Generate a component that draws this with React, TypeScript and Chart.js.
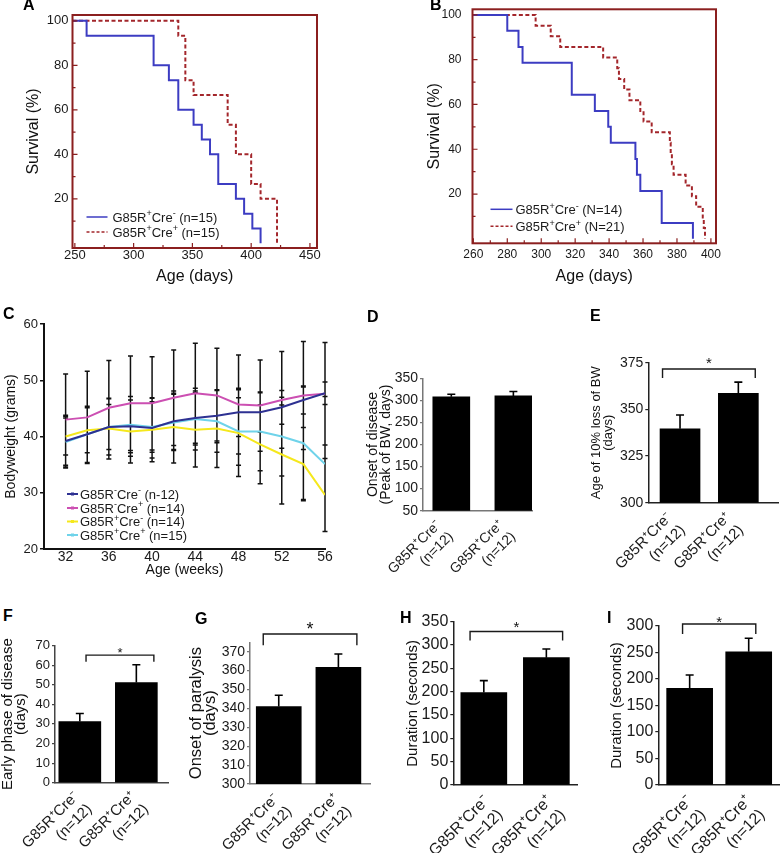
import React, { useEffect, useRef } from 'react';
import { Chart, registerables } from 'chart.js';

Chart.register(...registerables);

const FONT = "'Liberation Sans', Arial, Helvetica, sans-serif";
Chart.defaults.font.family = FONT;

/* ---------------- Panel A : survival ---------------- */
const A_X_TICKS = [250, 300, 350, 400, 450];
const A_Y_TICKS = [20, 40, 60, 80, 100];
const A_CREMINUS_DAYS = [248, 260, 317, 330, 338, 351, 358, 365, 372, 387, 394, 401, 408];
const A_CREMINUS_SURV = [100, 93.3, 80, 73.3, 60, 53.3, 46.7, 40, 26.7, 20, 13.3, 6.7, 0];
const A_CREPLUS_DAYS = [248, 338, 344, 351, 380, 387, 400, 408, 422];
const A_CREPLUS_SURV = [100, 93.3, 73.3, 66.7, 53.3, 40, 26.7, 20, 0];
const A_LEGEND = ['G85R^+Cre^- (n=15)', 'G85R^+Cre^+ (n=15)'];

/* ---------------- Panel B : survival ---------------- */
const B_X_TICKS = [260, 280, 300, 320, 340, 360, 380, 400];
const B_Y_TICKS = [20, 40, 60, 80, 100];
const B_CREMINUS_DAYS = [260, 280, 286.6, 289, 318, 331.6, 339.5, 341, 355.5, 356.4, 358.4, 371, 389.4];
const B_CREMINUS_SURV = [100, 92.9, 85.7, 78.6, 64.3, 57.1, 50, 42.9, 35.7, 28.6, 21.4, 7.1, 0];
const B_CREPLUS_DAYS = [260, 296.7, 305.6, 311.2, 336.5, 344.8, 345.8, 348.9, 352, 358.4, 360.3, 365.1, 375.8, 376.3, 377, 378, 385.1, 388.8, 391.3, 395.2, 395.8, 396.5];
const B_CREPLUS_SURV = [100, 95.2, 90.5, 85.7, 81, 76.2, 71.4, 66.7, 61.9, 57.1, 52.4, 47.6, 42.9, 38.1, 33.3, 28.6, 23.8, 19, 14.3, 9.5, 4.8, 0];
const B_LEGEND = ['G85R^+Cre^- (N=14)', 'G85R^+Cre^+ (N=21)'];

/* ---------------- Panel C : bodyweight ---------------- */
const C_WEEKS = [32, 34, 36, 38, 40, 42, 44, 46, 48, 50, 52, 54, 56];
const C_X_TICKS = [32, 36, 40, 44, 48, 52, 56];
const C_Y_TICKS = [20, 30, 40, 50, 60];
const C_NEG_NEG = [39.2, 40.4, 41.7, 41.8, 41.5, 42.7, 43.3, 43.7, 44.3, 44.3, 45.2, 46.5, 47.7];
const C_NEG_NEG_SD = [4.6, 5.0, 5.0, 5.3, 5.3, 5.0, 4.8, 4.5, 4.3, 3.5, 3.0, 2.5, 2.0];
const C_NEG_POS = [43.0, 43.4, 45.1, 45.9, 45.9, 46.9, 47.7, 47.3, 45.7, 45.5, 46.5, 47.3, 47.6];
const C_NEG_POS_SD = [8.1, 8.2, 8.4, 8.4, 8.3, 8.5, 8.9, 8.4, 8.8, 8.1, 8.6, 9.6, 9.1];
const C_POS_NEG = [40.0, 41.1, 41.4, 40.9, 41.2, 41.7, 41.2, 41.4, 40.6, 38.6, 36.8, 35.1, 29.6];
const C_POS_NEG_SD = [3.3, 4.0, 5.4, 5.6, 5.7, 6.4, 6.6, 6.9, 7.7, 7.0, 8.8, 6.5, 6.5];
const C_POS_POS = [39.0, 40.4, 41.7, 42.1, 41.7, 42.5, 43.1, 42.7, 40.9, 40.9, 40.0, 38.8, 35.1];
const C_POS_POS_SD = [4.6, 5.0, 4.0, 5.0, 4.5, 5.0, 5.5, 5.5, 6.0, 7.0, 7.0, 10.0, 12.0];
const C_LEGEND = ['G85R^-Cre^- (n-12)', 'G85R^-Cre^+ (n=14)', 'G85R^+Cre^- (n=14)', 'G85R^+Cre^+ (n=15)'];

/* ---------------- Bar panels D-I ---------------- */
const BAR_LABELS = [['G85R⁺Cre⁻', '(n=12)'], ['G85R⁺Cre⁺', '(n=12)']];
const D_ONSET = [308, 310];
const D_ERR = [6, 10];
const D_Y_TICKS = [50, 100, 150, 200, 250, 300, 350];
const E_LOSS10 = [339.6, 358.6];
const E_ERR = [7.4, 6.0];
const E_Y_TICKS = [300, 325, 350, 375];
const F_EARLY = [31.2, 51.1];
const F_ERR = [4.1, 9.1];
const F_Y_TICKS = [0, 10, 20, 30, 40, 50, 60, 70];
const G_PARALYSIS = [341, 361.7];
const G_ERR = [6, 7.1];
const G_Y_TICKS = [300, 310, 320, 330, 340, 350, 360, 370];
const H_DURATION = [198, 273];
const H_ERR = [25.8, 18.6];
const H_Y_TICKS = [0, 50, 100, 150, 200, 250, 300, 350];
const I_DURATION = [182.5, 251.5];
const I_ERR = [25, 25.3];
const I_Y_TICKS = [0, 50, 100, 150, 200, 250, 300];

/* ---------------- colours ---------------- */
const SURV_BLUE = '#3c3cc2';
const SURV_RED = '#a3262b';
const FRAME = '#8b1f1f';
const C_NAVY = '#2e3192';
const C_MAGENTA = '#cc4fb2';
const C_YELLOW = '#f5e81c';
const C_CYAN = '#6fd3ea';

type Box = { x: number; y: number; w: number; h: number };
type Area = { l: number; t: number; r: number; b: number };

const zip = (xs: number[], ys: number[]) => xs.map((x, i) => ({ x, y: ys[i] }));
const layoutFor = (box: Box, area: Area) => ({
  padding: { left: 0, top: area.t - box.y, right: box.x + box.w - area.r, bottom: 0 },
});
const yFit = (box: Box, area: Area) => (s: any) => {
  s.width = area.l - box.x;
  s.paddingTop = 0;
  s.paddingBottom = 0;
};
const xFit = (box: Box, area: Area) => (s: any) => {
  s.height = box.y + box.h - area.b;
  s.paddingLeft = 0;
  s.paddingRight = 0;
};
const setTicks = (vals: number[]) => (s: any) => {
  s.ticks = vals.map((v) => ({ value: v }));
};

function drawRich(ctx: CanvasRenderingContext2D, text: string, x: number, y: number, size: number, color: string) {
  const parts = text.split(/(\^.)/).filter(Boolean);
  let cx = x;
  ctx.save();
  ctx.fillStyle = color;
  ctx.textAlign = 'left';
  ctx.textBaseline = 'alphabetic';
  for (const p of parts) {
    if (p.length === 2 && p[0] === '^') {
      ctx.font = `${Math.round(size * 0.72)}px ${FONT}`;
      ctx.fillText(p[1], cx, y - size * 0.42);
      cx += ctx.measureText(p[1]).width;
    } else {
      ctx.font = `${size}px ${FONT}`;
      ctx.fillText(p, cx, y);
      cx += ctx.measureText(p).width;
    }
  }
  ctx.restore();
}

/* ---------------- survival panels ---------------- */
type SurvSpec = {
  box: Box;
  area: Area;
  xMin: number;
  xMax: number;
  yMin: number;
  yMax: number;
  xTicks: number[];
  yTicks: number[];
  xMinorStep: number;
  xMajorStep: number;
  tickSize: number;
  yLabelPad: number;
  xLabelPad: number;
  series: { days: number[]; surv: number[]; color: string; dash: number[] }[];
  legend: string[];
  leg: { x1: number; x2: number; xt: number; dy: number[] };
};

function survivalConfig(s: SurvSpec) {
  const frame = {
    id: 'frame',
    afterDraw(chart: any) {
      const { ctx, chartArea: a, scales } = chart;
      ctx.save();
      ctx.strokeStyle = FRAME;
      ctx.lineWidth = 2;
      ctx.strokeRect(a.left, a.top, a.right - a.left, a.bottom - a.top);
      ctx.lineWidth = 1.2;
      ctx.beginPath();
      for (let v = s.xTicks[0]; v <= s.xMax; v += s.xMinorStep) {
        const px = scales.x.getPixelForValue(v);
        const L = Math.abs((v - s.xTicks[0]) % s.xMajorStep) < 1e-6 ? 5 : 3;
        ctx.moveTo(px, a.bottom);
        ctx.lineTo(px, a.bottom - L);
      }
      for (let v = 10; v <= 100; v += 10) {
        const py = scales.y.getPixelForValue(v);
        const L = v % 20 === 0 ? 5 : 3;
        ctx.moveTo(a.left, py);
        ctx.lineTo(a.left + L, py);
      }
      ctx.stroke();
      ctx.restore();
    },
  };
  const legend = {
    id: 'survLegend',
    afterDraw(chart: any) {
      const { ctx, chartArea: a } = chart;
      s.legend.forEach((t, i) => {
        const y = a.bottom - s.leg.dy[i];
        const ser = s.series[i];
        ctx.save();
        ctx.strokeStyle = ser.color;
        ctx.lineWidth = 1.5;
        ctx.setLineDash(ser.dash.length ? [3, 2] : []);
        ctx.beginPath();
        ctx.moveTo(a.left + s.leg.x1, y);
        ctx.lineTo(a.left + s.leg.x2, y);
        ctx.stroke();
        ctx.restore();
        drawRich(ctx, t, a.left + s.leg.xt, y + 4.8, 13, '#1a1a1a');
      });
    },
  };
  return {
    type: 'line',
    data: {
      datasets: s.series.map((ser) => ({
        data: zip(ser.days, ser.surv),
        borderColor: ser.color,
        borderWidth: 2,
        borderDash: ser.dash,
        stepped: 'before',
        pointRadius: 0,
        fill: false,
      })),
    },
    options: {
      animation: false,
      responsive: false,
      devicePixelRatio: 1,
      events: [],
      layout: layoutFor(s.box, s.area),
      plugins: { legend: { display: false }, tooltip: { enabled: false } },
      scales: {
        x: {
          type: 'linear',
          min: s.xMin,
          max: s.xMax,
          afterBuildTicks: setTicks(s.xTicks),
          afterFit: xFit(s.box, s.area),
          grid: { display: false, drawTicks: false },
          border: { display: false },
          ticks: { font: { size: s.tickSize }, color: '#1a1a1a', padding: s.xLabelPad, maxRotation: 0 },
          title: { display: true, text: 'Age (days)', font: { size: 16, lineHeight: 1.2 }, color: '#111', padding: 0 },
        },
        y: {
          type: 'linear',
          min: s.yMin,
          max: s.yMax,
          afterBuildTicks: setTicks(s.yTicks),
          afterFit: yFit(s.box, s.area),
          grid: { display: false, drawTicks: false },
          border: { display: false },
          ticks: { font: { size: s.tickSize }, color: '#1a1a1a', padding: s.yLabelPad },
          title: { display: true, text: 'Survival (%)', font: { size: 16, lineHeight: 1.2 }, color: '#111', padding: 0 },
        },
      },
    },
    plugins: [frame, legend],
  };
}

const A_SPEC: SurvSpec = {
  box: { x: 24, y: 2, w: 306, h: 284 },
  area: { l: 72.5, t: 15, r: 317, b: 248 },
  xMin: 248,
  xMax: 456,
  yMin: -2.1,
  yMax: 102.6,
  xTicks: A_X_TICKS,
  yTicks: A_Y_TICKS,
  xMinorStep: 25,
  xMajorStep: 50,
  tickSize: 13,
  yLabelPad: 4,
  xLabelPad: 0,
  series: [
    { days: A_CREMINUS_DAYS, surv: A_CREMINUS_SURV, color: SURV_BLUE, dash: [] },
    { days: A_CREPLUS_DAYS, surv: A_CREPLUS_SURV, color: SURV_RED, dash: [4, 2.5] },
  ],
  legend: A_LEGEND,
  leg: { x1: 14, x2: 35, xt: 40, dy: [31, 16] },
};

const B_SPEC: SurvSpec = {
  box: { x: 425, y: 0, w: 315, h: 286 },
  area: { l: 472.5, t: 9.3, r: 716, b: 243.3 },
  xMin: 259.5,
  xMax: 403,
  yMin: -2,
  yMax: 102.5,
  xTicks: B_X_TICKS,
  yTicks: B_Y_TICKS,
  xMinorStep: 10,
  xMajorStep: 20,
  tickSize: 12,
  yLabelPad: 11,
  xLabelPad: 4,
  series: [
    { days: B_CREMINUS_DAYS, surv: B_CREMINUS_SURV, color: SURV_BLUE, dash: [] },
    { days: B_CREPLUS_DAYS, surv: B_CREPLUS_SURV, color: SURV_RED, dash: [4, 2.5] },
  ],
  legend: B_LEGEND,
  leg: { x1: 18, x2: 40, xt: 43, dy: [34, 17] },
};

/* ---------------- panel C ---------------- */
const C_BOX: Box = { x: 3, y: 312, w: 340, h: 267 };
const C_AREA: Area = { l: 44, t: 324, r: 325, b: 549 };
const C_SERIES = [
  { values: C_NEG_NEG, sd: C_NEG_NEG_SD, color: C_NAVY },
  { values: C_NEG_POS, sd: C_NEG_POS_SD, color: C_MAGENTA },
  { values: C_POS_NEG, sd: C_POS_NEG_SD, color: C_YELLOW },
  { values: C_POS_POS, sd: C_POS_POS_SD, color: C_CYAN },
];

function weightConfig() {
  const errs = {
    id: 'cErr',
    beforeDatasetsDraw(chart: any) {
      const { ctx, scales } = chart;
      ctx.save();
      ctx.strokeStyle = '#111';
      ctx.lineWidth = 1.5;
      ctx.beginPath();
      C_SERIES.forEach((ser) => {
        C_WEEKS.forEach((w, j) => {
          const x = scales.x.getPixelForValue(w);
          const yt = scales.y.getPixelForValue(ser.values[j] + ser.sd[j]);
          const yb = scales.y.getPixelForValue(ser.values[j] - ser.sd[j]);
          ctx.moveTo(x, yt);
          ctx.lineTo(x, yb);
          ctx.moveTo(x - 2.5, yt);
          ctx.lineTo(x + 2.5, yt);
          ctx.moveTo(x - 2.5, yb);
          ctx.lineTo(x + 2.5, yb);
        });
      });
      ctx.stroke();
      ctx.restore();
    },
  };
  const legend = {
    id: 'cLegend',
    afterDraw(chart: any) {
      const { ctx, chartArea: a } = chart;
      const dys = [55, 41, 27.5, 14];
      C_LEGEND.forEach((t, i) => {
        const y = a.bottom - dys[i];
        ctx.save();
        ctx.strokeStyle = C_SERIES[i].color;
        ctx.fillStyle = C_SERIES[i].color;
        ctx.lineWidth = 2;
        ctx.beginPath();
        ctx.moveTo(a.left + 23, y);
        ctx.lineTo(a.left + 34, y);
        ctx.stroke();
        ctx.fillRect(a.left + 27, y - 1.5, 3, 3);
        ctx.restore();
        drawRich(ctx, t, a.left + 36, y + 4.6, 13, '#1a1a1a');
      });
    },
  };
  return {
    type: 'line',
    data: {
      datasets: C_SERIES.map((ser) => ({
        data: zip(C_WEEKS, ser.values),
        borderColor: ser.color,
        borderWidth: 2,
        pointRadius: 0,
        tension: 0,
        fill: false,
      })),
    },
    options: {
      animation: false,
      responsive: false,
      devicePixelRatio: 1,
      events: [],
      layout: layoutFor(C_BOX, C_AREA),
      plugins: { legend: { display: false }, tooltip: { enabled: false } },
      scales: {
        x: {
          type: 'linear',
          min: 30,
          max: 56,
          afterBuildTicks: setTicks(C_X_TICKS),
          afterFit: xFit(C_BOX, C_AREA),
          grid: { display: false, drawTicks: false },
          border: { display: true, color: '#111', width: 2 },
          ticks: { font: { size: 14 }, color: '#1a1a1a', padding: 0, maxRotation: 0 },
          title: { display: true, text: 'Age (weeks)', font: { size: 14, lineHeight: 1.2 }, color: '#111', padding: 0 },
        },
        y: {
          type: 'linear',
          min: 20,
          max: 60,
          afterBuildTicks: setTicks(C_Y_TICKS),
          afterFit: yFit(C_BOX, C_AREA),
          grid: { display: true, drawOnChartArea: false, drawTicks: true, tickLength: 4, color: '#111', lineWidth: 1.5 },
          border: { display: true, color: '#111', width: 2 },
          ticks: { font: { size: 13 }, color: '#1a1a1a', padding: 2 },
          title: { display: true, text: 'Bodyweight (grams)', font: { size: 14, lineHeight: 1.2 }, color: '#111', padding: 0 },
        },
      },
    },
    plugins: [errs, legend],
  };
}

/* ---------------- bar panels ---------------- */
type Bracket = { x1: number; x2: number; y: number; yEnd: number; star: number; gap: number };
type BarSpec = {
  box: Box;
  area: Area;
  values: number[];
  errs: number[];
  yMin: number;
  yMax: number;
  yTicks: number[];
  xMin: number;
  xMax: number;
  barW: number;
  title: string | string[];
  titleSize: number;
  titleLH: number;
  tickSize: number;
  xLabelSize: number;
  labelOffset: number;
  labelPad: number;
  axisColor: string;
  bracket?: Bracket;
};

function barExtras(s: BarSpec) {
  return {
    id: 'barExtras',
    afterDatasetsDraw(chart: any) {
      const ctx = chart.ctx;
      const ys = chart.scales.y;
      const xs = chart.scales.x;
      const meta = chart.getDatasetMeta(0);
      ctx.save();
      ctx.strokeStyle = '#000';
      ctx.lineWidth = 1.6;
      meta.data.forEach((el: any, i: number) => {
        const top = ys.getPixelForValue(s.values[i] + s.errs[i]);
        ctx.beginPath();
        ctx.moveTo(el.x, el.y);
        ctx.lineTo(el.x, top);
        ctx.moveTo(el.x - 4, top);
        ctx.lineTo(el.x + 4, top);
        ctx.stroke();
      });
      const b = s.bracket;
      if (b) {
        const X1 = xs.getPixelForValue(b.x1);
        const X2 = xs.getPixelForValue(b.x2);
        const Y = ys.getPixelForValue(b.y);
        const YE = ys.getPixelForValue(b.yEnd);
        ctx.strokeStyle = '#1a1a1a';
        ctx.lineWidth = 1.4;
        ctx.beginPath();
        ctx.moveTo(X1, YE);
        ctx.lineTo(X1, Y);
        ctx.lineTo(X2, Y);
        ctx.lineTo(X2, YE);
        ctx.stroke();
        ctx.fillStyle = '#111';
        ctx.font = `${b.star}px ${FONT}`;
        ctx.textAlign = 'center';
        ctx.textBaseline = 'alphabetic';
        ctx.fillText('*', (X1 + X2) / 2, Y - b.gap + 0.57 * b.star);
      }
      ctx.restore();
    },
  };
}

function barConfig(s: BarSpec) {
  return {
    type: 'bar',
    data: {
      datasets: [
        {
          data: s.values.map((v, i) => ({ x: i + 1, y: v })),
          backgroundColor: '#000',
          borderWidth: 0,
          barThickness: s.barW,
        },
      ],
    },
    options: {
      animation: false,
      responsive: false,
      devicePixelRatio: 1,
      events: [],
      layout: layoutFor(s.box, s.area),
      plugins: { legend: { display: false }, tooltip: { enabled: false } },
      scales: {
        x: {
          type: 'linear',
          min: s.xMin,
          max: s.xMax,
          offset: false,
          afterBuildTicks: setTicks(BAR_LABELS.map((_, i) => i + 1)),
          afterFit: xFit(s.box, s.area),
          grid: { display: false, drawTicks: false },
          border: { display: true, color: s.axisColor, width: 1.5 },
          ticks: {
            font: { size: s.xLabelSize, lineHeight: 1.2 },
            color: '#1a1a1a',
            minRotation: 45,
            maxRotation: 45,
            padding: s.labelPad,
            labelOffset: s.labelOffset,
            autoSkip: false,
            callback: (v: number) => BAR_LABELS[Math.round(v) - 1],
          },
        },
        y: {
          type: 'linear',
          min: s.yMin,
          max: s.yMax,
          afterBuildTicks: setTicks(s.yTicks),
          afterFit: yFit(s.box, s.area),
          grid: { display: true, drawOnChartArea: false, drawTicks: true, tickLength: 3, color: s.axisColor, lineWidth: 1.2 },
          border: { display: true, color: s.axisColor, width: 1.5 },
          ticks: { font: { size: s.tickSize }, color: '#1a1a1a', padding: 2 },
          title: { display: true, text: s.title, font: { size: s.titleSize, lineHeight: s.titleLH }, color: '#111', padding: 0 },
        },
      },
    },
    plugins: [barExtras(s)],
  };
}

const D_SPEC: BarSpec = {
  box: { x: 366, y: 368, w: 176, h: 207 },
  area: { l: 423, t: 378.3, r: 532, b: 510.7 },
  values: D_ONSET, errs: D_ERR, yMin: 50, yMax: 350, yTicks: D_Y_TICKS,
  xMin: 0.544, xMax: 2.3, barW: 37,
  title: ['Onset of disease', '(Peak of BW, days)'], titleSize: 14, titleLH: 0.95,
  tickSize: 14, xLabelSize: 14, labelOffset: -12, labelPad: 6, axisColor: '#777',
};
const E_SPEC: BarSpec = {
  box: { x: 590, y: 350, w: 190, h: 225 },
  area: { l: 648.3, t: 362.7, r: 778, b: 502.7 },
  values: E_LOSS10, errs: E_ERR, yMin: 300, yMax: 375, yTicks: E_Y_TICKS,
  xMin: 0.456, xMax: 2.68, barW: 40,
  title: ['Age of 10% loss of BW', '(days)'], titleSize: 13, titleLH: 0.95,
  tickSize: 14, xLabelSize: 15, labelOffset: -10, labelPad: 6, axisColor: '#222',
  bracket: { x1: 0.7, x2: 2.29, y: 371.6, yEnd: 366.8, star: 15, gap: 10 },
};
const F_SPEC: BarSpec = {
  box: { x: 1, y: 628, w: 184, h: 225 },
  area: { l: 55, t: 645.5, r: 168, b: 782.7 },
  values: F_EARLY, errs: F_ERR, yMin: 0, yMax: 70, yTicks: F_Y_TICKS,
  xMin: 0.561, xMax: 2.56, barW: 42,
  title: ['Early phase of disease', '(days)'], titleSize: 15, titleLH: 0.87,
  tickSize: 13, xLabelSize: 15, labelOffset: -3, labelPad: 5, axisColor: '#444',
  bracket: { x1: 1.11, x2: 2.31, y: 65.1, yEnd: 61.7, star: 13, gap: 6 },
};
const G_SPEC: BarSpec = {
  box: { x: 189, y: 612, w: 206, h: 241 },
  area: { l: 250, t: 642.3, r: 370, b: 784 },
  values: G_PARALYSIS, errs: G_ERR, yMin: 300, yMax: 375, yTicks: G_Y_TICKS,
  xMin: 0.518, xMax: 2.53, barW: 45,
  title: ['Onset of paralysis', '(days)'], titleSize: 16.5, titleLH: 0.88,
  tickSize: 14, xLabelSize: 15, labelOffset: -2, labelPad: 6, axisColor: '#777',
  bracket: { x1: 0.74, x2: 2.31, y: 379.4, yEnd: 373.5, star: 18, gap: 9 },
};
const H_SPEC: BarSpec = {
  box: { x: 404, y: 610, w: 198, h: 243 },
  area: { l: 453.3, t: 621.7, r: 577, b: 785 },
  values: H_DURATION, errs: H_ERR, yMin: 0, yMax: 350, yTicks: H_Y_TICKS,
  xMin: 0.512, xMax: 2.49, barW: 46,
  title: 'Duration (seconds)', titleSize: 15, titleLH: 1.2,
  tickSize: 16, xLabelSize: 16, labelOffset: 3, labelPad: 7, axisColor: '#222',
  bracket: { x1: 0.78, x2: 2.26, y: 329, yEnd: 309.7, star: 15, gap: 8 },
};
const I_SPEC: BarSpec = {
  box: { x: 608, y: 606, w: 172, h: 247 },
  area: { l: 658.3, t: 626, r: 780, b: 785 },
  values: I_DURATION, errs: I_ERR, yMin: 0, yMax: 300, yTicks: I_Y_TICKS,
  xMin: 0.469, xMax: 2.53, barW: 46,
  title: 'Duration (seconds)', titleSize: 15, titleLH: 1.2,
  tickSize: 16, xLabelSize: 16, labelOffset: 0, labelPad: 7, axisColor: '#222',
  bracket: { x1: 0.88, x2: 2.12, y: 303.8, yEnd: 285, star: 15, gap: 6 },
};

const LETTERS: [string, number, number][] = [
  ['A', 23, -3],
  ['B', 430, -3],
  ['C', 3, 306],
  ['D', 367, 309],
  ['E', 590, 308],
  ['F', 3, 608],
  ['G', 195, 611],
  ['H', 400, 610],
  ['I', 607, 610],
];

function Panel({ box, make }: { box: Box; make: () => any }) {
  const ref = useRef<HTMLCanvasElement | null>(null);
  useEffect(() => {
    if (!ref.current) return;
    const chart = new Chart(ref.current, make());
    return () => chart.destroy();
  }, []);
  return (
    <canvas
      ref={ref}
      width={box.w}
      height={box.h}
      style={{ position: 'absolute', left: box.x, top: box.y, width: box.w + 'px', height: box.h + 'px' }}
    />
  );
}

export default function App() {
  return (
    <div style={{ position: 'absolute', left: 0, top: 0, width: 780, height: 853, background: '#fff', overflow: 'hidden' }}>
      <Panel box={A_SPEC.box} make={() => survivalConfig(A_SPEC)} />
      <Panel box={B_SPEC.box} make={() => survivalConfig(B_SPEC)} />
      <Panel box={C_BOX} make={weightConfig} />
      <Panel box={D_SPEC.box} make={() => barConfig(D_SPEC)} />
      <Panel box={E_SPEC.box} make={() => barConfig(E_SPEC)} />
      <Panel box={F_SPEC.box} make={() => barConfig(F_SPEC)} />
      <Panel box={G_SPEC.box} make={() => barConfig(G_SPEC)} />
      <Panel box={H_SPEC.box} make={() => barConfig(H_SPEC)} />
      <Panel box={I_SPEC.box} make={() => barConfig(I_SPEC)} />
      {LETTERS.map(([t, x, y]) => (
        <div
          key={t}
          style={{ position: 'absolute', left: x, top: y, font: `bold 16px ${FONT}`, lineHeight: '16px', color: '#000' }}
        >
          {t}
        </div>
      ))}
    </div>
  );
}
